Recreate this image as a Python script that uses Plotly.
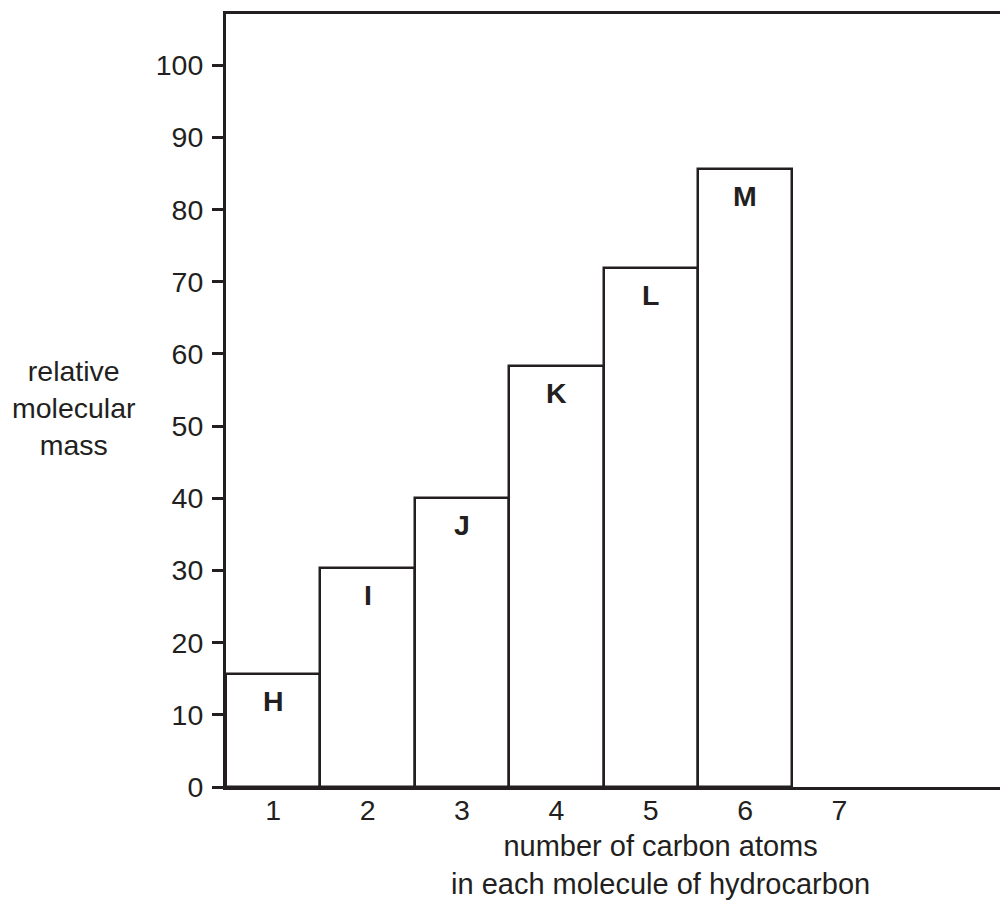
import plotly.graph_objects as go

carbon_atoms = [1, 2, 3, 4, 5, 6]
rel_mass = [15.7, 30.3, 40.0, 58.3, 71.9, 85.6]
letters = ["H", "I", "J", "K", "L", "M"]
x_ticks = [1, 2, 3, 4, 5, 6, 7]
y_ticks = [0, 10, 20, 30, 40, 50, 60, 70, 80, 90, 100]

FONT = "Liberation Sans, Arial, sans-serif"
INK = "#231f20"
FS = 28.5

fig = go.Figure()
fig.add_trace(go.Bar(
    x=carbon_atoms, y=rel_mass, width=1,
    marker=dict(color="white", line=dict(color=INK, width=2.5)),
    hoverinfo="skip", showlegend=False,
))
for xv, yv, t in zip(carbon_atoms, rel_mass, letters):
    fig.add_annotation(x=xv, y=yv, text=f"<b>{t}</b>", showarrow=False,
                       yshift=-27, font=dict(family=FONT, size=FS, color=INK))

fig.update_layout(
    width=1000, height=898,
    margin=dict(l=218, r=0, t=6, b=119),
    paper_bgcolor="white", plot_bgcolor="white",
    font=dict(family=FONT, size=FS, color=INK),
    bargap=0,
    xaxis=dict(range=[0.5, 8.786], tickvals=x_ticks, ticktext=[str(v) for v in x_ticks],
               showgrid=False, zeroline=False, showline=True, linecolor=INK, linewidth=3,
               mirror=True, ticks="", ticklabelstandoff=-4),
    yaxis=dict(range=[0, 107.1], tickvals=y_ticks, showgrid=False, zeroline=False,
               showline=True, linecolor=INK, linewidth=3, ticks="outside", ticklen=11,
               tickwidth=2.5, tickcolor=INK, ticklabelstandoff=3),
)
fig.add_annotation(xref="paper", yref="paper", x=-0.195, y=0.49, xanchor="center", yanchor="middle",
                   text="relative<br>molecular<br>mass", showarrow=False,
                   font=dict(family=FONT, size=FS, color=INK))
fig.add_annotation(xref="paper", yref="paper", x=0.555, y=-0.101, xanchor="center", yanchor="middle",
                   text="number of carbon atoms<br>in each molecule of hydrocarbon", showarrow=False,
                   font=dict(family=FONT, size=29, color=INK))
fig.write_html("out.html")
